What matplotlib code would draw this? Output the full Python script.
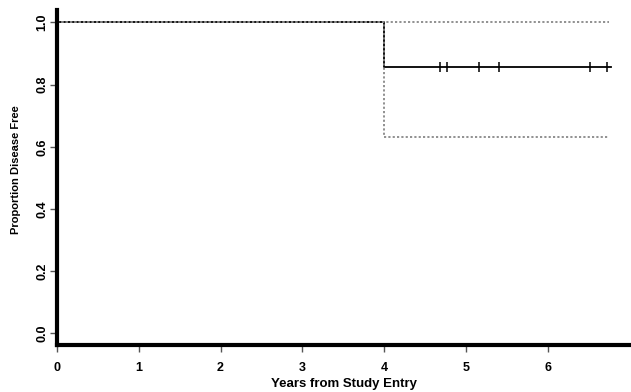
import numpy as np
import matplotlib
matplotlib.use("Agg")
import matplotlib.pyplot as plt

plt.rcParams['font.family'] = ['Liberation Sans', 'DejaVu Sans']

# Kaplan-Meier estimate (step function)
km_time = [0.0, 4.0, 6.77]
km_surv = [1.0, 0.857, 0.857]
# pointwise confidence band
ci_upper = [1.0, 1.0, 1.0]
ci_lower = [1.0, 0.633, 0.633]
ci_time = [0.0, 4.0, 6.75]
# censored observations
cens_time = [4.68, 4.77, 5.16, 5.40, 6.52, 6.73]
cens_surv = [0.857] * len(cens_time)

x_ticks = [0, 1, 2, 3, 4, 5, 6]
y_ticks = [0.0, 0.2, 0.4, 0.6, 0.8, 1.0]

fig = plt.figure(figsize=(6.31, 3.92), dpi=100)
ax = fig.add_axes([57 / 631, 47 / 392, (631 - 57) / 631, (345 - 10) / 392])

ax.step(km_time, km_surv, where='post', color='black', lw=1.3)
ax.plot(cens_time, cens_surv, ls='none', marker='|', ms=7, mew=1.1, color='black')
ax.step(ci_time, ci_upper, where='post', color='#888888', lw=1.3, ls=(0, (1.2, 1.2)))
ax.step(ci_time, ci_lower, where='post', color='#888888', lw=1.3, ls=(0, (1.2, 1.2)))

ax.set_xlim(0, 7.02)
ax.set_ylim(-0.037, 1.04)
ax.set_xticks(x_ticks)
ax.set_yticks(y_ticks)
ax.set_xticklabels([str(v) for v in x_ticks], fontweight='bold', fontsize=9)
ax.set_yticklabels(['%.1f' % v for v in y_ticks], fontweight='bold', fontsize=9,
                   rotation=90, va='center')

for s in ['top', 'right']:
    ax.spines[s].set_visible(False)
for s in ['left', 'bottom']:
    ax.spines[s].set_linewidth(3)
ax.tick_params(axis='both', length=5, width=1, color='#555555')
ax.tick_params(axis='x', pad=7)
ax.tick_params(axis='y', pad=1)

ax.set_xlabel('Years from Study Entry', fontweight='bold', fontsize=9.5, labelpad=3)
ax.set_ylabel('Proportion Disease Free', fontweight='bold', fontsize=8)
ax.yaxis.set_label_coords(-0.062, 0.525)

fig.savefig('out.png', dpi=100)
